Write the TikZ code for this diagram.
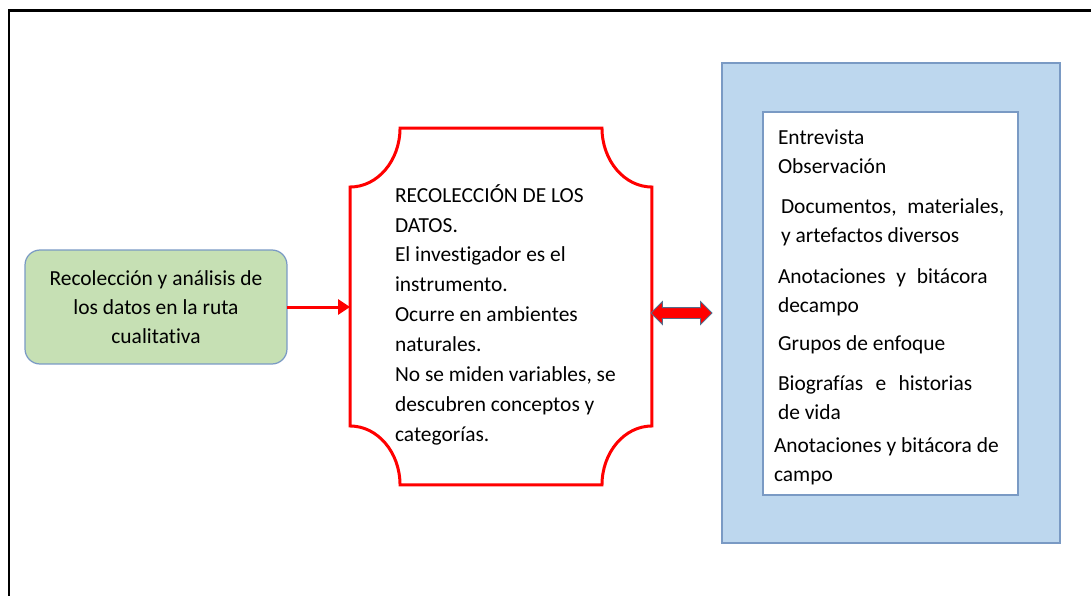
\documentclass[tikz,border=0pt]{standalone}
\usepackage{fontspec}
\setmainfont{Carlito}[Ligatures=NoCommon]
\usetikzlibrary{positioning,arrows.meta,shapes.arrows}
\definecolor{verdeclaro}{HTML}{C6E0B4}
\definecolor{azulclaro}{HTML}{BDD7EE}
\definecolor{azulborde}{HTML}{7A9AC4}

\begin{document}
\begin{tikzpicture}[x=0.02cm, y=0.02cm,
  every node/.style={font=\fontsize{12.2}{16.4}\selectfont, outer sep=0pt},
  borderojo/.style={draw=red, line width=0.06cm},
  caja/.style={draw=azulborde, line width=0.7pt}]
  \useasboundingbox (0,0) rectangle (1091,596);
  \draw[line width=0.06cm] (1091,585) -- (9,585) -- (9,0);
  \node[caja, fill=verdeclaro, rounded corners=0.3cm, minimum width=5.24cm,
    minimum height=2.28cm, align=center] (ruta) at (156,289)
    {Recolección y análisis de\\los datos en la ruta\\cualitativa};
  \node[minimum width=6.04cm, minimum height=7.14cm, inner sep=0pt] (datos) at (501,289.5) {};
  \draw[borderojo]
    ([yshift=-1.18cm]datos.north west)
    arc[start angle=270, end angle=360, x radius=1cm, y radius=1.18cm]
    -- ([xshift=-1cm]datos.north east)
    arc[start angle=180, end angle=270, x radius=1cm, y radius=1.18cm]
    -- ([yshift=1.18cm]datos.south east)
    arc[start angle=90, end angle=180, x radius=1cm, y radius=1.18cm]
    -- ([xshift=1cm]datos.south west)
    arc[start angle=0, end angle=90, x radius=1cm, y radius=1.18cm]
    -- cycle;
  \node[align=left, inner sep=0pt, anchor=west,
    font=\fontsize{12.2}{17}\selectfont] (datostexto) at ([shift={(45,-8)}]datos.west)
    {RECOLECCIÓN DE LOS\\DATOS.\\El investigador es el\\instrumento.\\Ocurre en ambientes\\naturales.\\No se miden variables, se\\descubren conceptos y\\categorías.};
  \draw[red, line width=0.06cm, -{Triangle[length=0.24cm, width=0.3cm]}]
    (ruta.east) -- (ruta.east -| datos.west);
  \node[double arrow, fill=red, draw=azulborde!70!black, line width=0.5pt,
    double arrow head extend=0.12cm, minimum height=1.22cm,
    inner xsep=0pt, inner ysep=0.1cm, anchor=west] (flecha) at ([shift={(-1,-6.5)}]datos.east) {};
  \node[caja, fill=azulclaro, minimum width=6.76cm, minimum height=9.6cm] (tecnicas) at (891,293) {};
  \node[caja, fill=white, minimum width=5.1cm, minimum height=7.66cm] (lista) at (890.5,292.5) {};
  \node[align=left, inner sep=0pt, anchor=west,
    font=\fontsize{12.2}{16.6}\selectfont] (listatexto) at ([shift={(15,-4)}]lista.west)
    {Entrevista\\
     Observación\\[5.7pt]
     \hspace*{0.06cm}Documentos,\enspace materiales,\\
     \hspace*{0.06cm}y artefactos diversos\\[6.8pt]
     Anotaciones\enspace y\enspace bitácora\\
     decampo\\[5pt]
     Grupos de enfoque\\[6pt]
     Biografías\hspace{7pt}e\hspace{7pt}historias\\
     de vida\\[2.3pt]
     \hspace*{-0.08cm}Anotaciones y bitácora de\\
     \hspace*{-0.08cm}campo};
\end{tikzpicture}
\end{document}
